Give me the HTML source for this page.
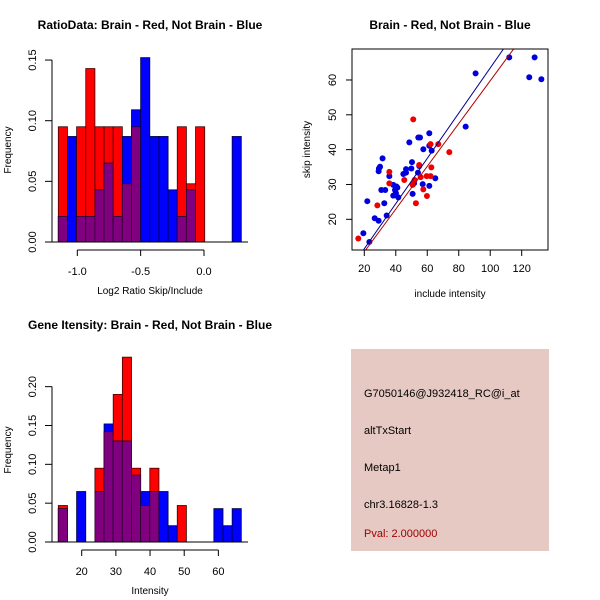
<!DOCTYPE html>
<html><head><meta charset="utf-8"><style>
html,body{margin:0;padding:0;background:#fff;}
svg{display:block;font-family:"Liberation Sans",sans-serif;}
</style></head><body>
<svg id="s" width="600" height="600" viewBox="0 0 600 600">
<rect x="0" y="0" width="600" height="600" fill="#fff"/>
<g>
<rect x="351" y="349" width="198" height="202" fill="#e6c9c3"/>
<text x="364" y="397" font-size="11" fill="#000">G7050146@J932418_RC@i_at</text>
<text x="364" y="434" font-size="11" fill="#000">altTxStart</text>
<text x="364" y="471" font-size="11" fill="#000">Metap1</text>
<text x="364" y="508" font-size="11" fill="#000">chr3.16828-1.3</text>
<text x="364" y="537" font-size="11" fill="#a00000">Pval: 2.000000</text>
</g>
</svg>
<script>
// ---- data ----
const ratioRed  = [0.095,0,0.095,0.143,0.095,0.095,0.095,0.048,0.095,0,0,0,0,0.095,0.048,0.095,0,0,0,0];
const ratioBlue = [0.021,0.087,0.021,0.021,0.043,0.065,0.021,0.087,0.109,0.152,0.087,0.087,0.043,0.021,0.043,0,0,0,0,0.087];
const ratioRange = [-1.15, 0.295];
const ratioXTicks = [-1.0,-0.5,0.0];
const ratioYTicks = [0.00,0.05,0.10,0.15];

const intRed  = [0.047,0,0,0,0.095,0.142,0.19,0.238,0.095,0.047,0.095,0,0,0.047,0,0,0,0,0,0];
const intBlue = [0.043,0,0.065,0,0.065,0.152,0.13,0.13,0.086,0.065,0.065,0.065,0.021,0,0,0,0,0.043,0.021,0.043];
const intRange = [13.15, 66.7];
const intXTicks = [20,30,40,50,60];
const intYTicks = [0.00,0.05,0.10,0.15,0.20];

const blueInc  = [19.4,21.9,23.2,26.6,29.1,30.8,30.0,29.3,29.1,31.6,33.3,32.7,34.2,35.9,38.4,39.5,40.5,41.0,38.4,40.1,39.5,41.6,44.8,46.5,46.5,48.6,50.3,49.9,50.7,54.3,55.4,54.9,54.1,57.5,57.1,61.3,61.3,62.8,61.3,65.1,84.4,90.7,112.1,124.8,128.2,132.5,51.6];
const blueSkip = [16.0,25.2,13.5,20.3,19.6,28.4,35.1,34.6,33.8,37.5,28.4,24.6,21.1,32.4,29.9,27.0,29.4,29.1,26.8,27.5,28.4,26.3,33.0,34.4,33.4,42.1,36.4,34.6,27.3,43.5,43.5,35.3,33.4,40.1,30.1,44.7,41.1,39.7,29.6,31.8,46.6,61.9,66.5,60.8,66.5,60.2,30.3];
const redInc  = [16.2,28.3,35.9,35.9,45.4,51.1,50.7,52.8,54.9,55.8,57.5,59.8,59.6,62.1,62.1,62.6,67.0,74.0,52.0];
const redSkip = [14.5,24.0,33.6,30.3,31.3,48.7,29.9,24.6,35.6,32.1,28.6,26.7,32.4,32.4,41.6,34.9,41.6,39.3,31.3];
const blueFit = [-1.45, 0.649];
const redFit  = [-1.63, 0.614];
const scXTicks = [20,40,60,80,100,120];
const scYTicks = [20,30,40,50,60];

const NS="http://www.w3.org/2000/svg";
const svg=document.getElementById('s');
function mk(tag,attrs,parent){const e=document.createElementNS(NS,tag);for(const k in attrs)e.setAttribute(k,attrs[k]);(parent||svg).appendChild(e);return e;}
function txt(x,y,s,size,parent,extra){const e=mk('text',Object.assign({x:x,y:y,'font-size':size,'text-anchor':'middle',fill:'#000'},extra||{}),parent);e.textContent=s;return e;}

function hist(cfg){
  const g=mk('g',{});
  
  
  const n=cfg.red.length;
  const px0=58.3, px1=241.3;
  const bw=(px1-px0)/n;
  const y=v=>cfg.base-v*cfg.yScale;
  const xv=v=>cfg.xAt0+(v-cfg.x0)*cfg.xScale;
  for(let i=0;i<n;i++){
    const x=px0+i*bw;
    const r=cfg.red[i], b=cfg.blue[i], m=Math.min(r,b);
    if(r>0){const e=mk('rect',{x:x,y:y(r),width:bw,height:r*cfg.yScale,fill:'#ff0000',stroke:'#400000','stroke-width':0.8},g);
      
      }
    if(b>0){const e=mk('rect',{x:x,y:y(b),width:bw,height:b*cfg.yScale,fill:'#0000ff',stroke:'#000040','stroke-width':0.8},g);
      
      }
    if(m>0){const e=mk('rect',{x:x,y:y(m),width:bw,height:m*cfg.yScale,fill:'#800080',stroke:'#300030','stroke-width':0.8},g);
      
      }
  }
  mk('line',{x1:52,x2:248,y1:cfg.base,y2:cfg.base,stroke:'#000'},g);
  const ya=mk('g',{},g);
  
  
  const yt=cfg.yTicks;
  mk('line',{x1:52,x2:52,y1:y(yt[0]),y2:y(yt[yt.length-1]),stroke:'#000'},ya);
  yt.forEach(t=>{mk('line',{x1:45,x2:52,y1:y(t),y2:y(t),stroke:'#000'},ya);
    txt(0,0,t.toFixed(2),11,ya,{transform:`translate(36,${y(t)}) rotate(-90)`});});
  const yl=txt(0,0,'Frequency',10,g,{transform:`translate(11,${cfg.base-92}) rotate(-90)`});
  
  
  const xa=mk('g',{},g);
  
  
  const xt=cfg.xTicks, ay=cfg.base+8;
  mk('line',{x1:xv(xt[0]),x2:xv(xt[xt.length-1]),y1:ay,y2:ay,stroke:'#000'},xa);
  xt.forEach(t=>{mk('line',{x1:xv(t),x2:xv(t),y1:ay,y2:ay+6,stroke:'#000'},xa);
    txt(xv(t),ay+25,cfg.fmt(t),11,xa);});
  const xl=txt(150,cfg.base+52,cfg.xlabel,10,g);
  
  
  const tl=txt(150,cfg.titleY,cfg.title,12,g,{'font-weight':'bold'});
  
  
}

hist({name:'ratio-histogram',red:ratioRed,blue:ratioBlue,base:242,yScale:1213,xAt0:77.3,x0:-1.0,xScale:126.7,
  yTicks:ratioYTicks,xTicks:ratioXTicks,fmt:t=>t.toFixed(1),xlabel:'Log2 Ratio Skip/Include',
  title:'RatioData: Brain - Red, Not Brain - Blue',titleY:29});
hist({name:'intensity-histogram',red:intRed,blue:intBlue,base:542,yScale:776.7,xAt0:81.7,x0:20,xScale:3.417,
  yTicks:intYTicks,xTicks:intXTicks,fmt:t=>String(t),xlabel:'Intensity',
  title:'Gene Itensity: Brain - Red, Not Brain - Blue',titleY:329});

const sg=mk('g',{});


const L=352,R=548,T=49,B=250;
const sx=v=>364.3+(v-20)*1.574;
const sy=v=>219.3-(v-20)*3.483;
const cp=mk('clipPath',{id:'cp'},sg);mk('rect',{x:L,y:T,width:R-L,height:B-T},cp);
for(let i=0;i<blueInc.length;i++){const c=mk('circle',{cx:sx(blueInc[i]),cy:sy(blueSkip[i]),r:3,fill:'#0000dd'},sg);
  
  }
for(let i=0;i<redInc.length;i++){const c=mk('circle',{cx:sx(redInc[i]),cy:sy(redSkip[i]),r:3,fill:'#ee0000'},sg);
  
  }
[[blueFit,'#00008b','blue-fit-line'],[redFit,'#b00000','red-fit-line']].forEach(([f,col,nm])=>{
  const l=mk('line',{x1:sx(0),y1:sy(f[0]),x2:sx(200),y2:sy(f[0]+f[1]*200),stroke:col,'stroke-width':1,'clip-path':'url(#cp)'},sg);
  
  });
mk('rect',{x:L,y:T,width:R-L,height:B-T,fill:'none',stroke:'#000'},sg);
const sxa=mk('g',{},sg);


scXTicks.forEach(t=>{mk('line',{x1:sx(t),x2:sx(t),y1:B,y2:B+6,stroke:'#000'},sxa);txt(sx(t),B+22,String(t),11,sxa);});
const sya=mk('g',{},sg);


scYTicks.forEach(t=>{mk('line',{x1:L-6,x2:L,y1:sy(t),y2:sy(t),stroke:'#000'},sya);
  txt(0,0,String(t),11,sya,{transform:`translate(${L-16},${sy(t)}) rotate(-90)`});});
const sxl=txt(450,297,'include intensity',10,sg);


const syl=txt(0,0,'skip intensity',10,sg,{transform:`translate(310,${(T+B)/2}) rotate(-90)`});


const stl=txt(450,29,'Brain - Red, Not Brain - Blue',12,sg,{'font-weight':'bold'});


</script>
</body></html>
